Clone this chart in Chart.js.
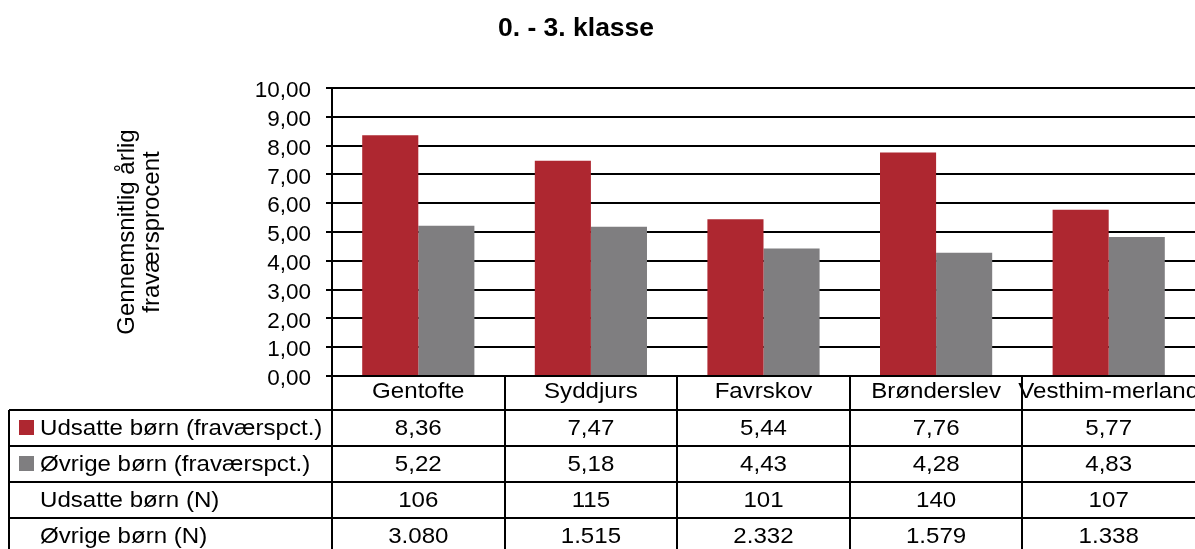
<!DOCTYPE html>
<html>
<head>
<meta charset="utf-8">
<script src="https://cdn.jsdelivr.net/npm/chart.js@4"></script>
<style>
html,body{margin:0;padding:0;background:#fff;}
#wrap{width:1195px;height:549px;position:relative;}
</style>
</head>
<body>
<div id="wrap"><canvas id="c" width="1195" height="549"></canvas></div>
<script>
const chartTitle = '0. - 3. klasse';
const yTitle = ['Gennemsnitlig årlig', 'fraværsprocent'];
const categories = ['Gentofte', 'Syddjurs', 'Favrskov', 'Brønderslev', 'Vesthim-merland'];
const udsatteLabel = 'Udsatte børn (fraværspct.)';
const ovrigeLabel = 'Øvrige børn (fraværspct.)';
const udsatte = [8.36, 7.47, 5.44, 7.76, 5.77];
const ovrige = [5.22, 5.18, 4.43, 4.28, 4.83];
const udsatteNLabel = 'Udsatte børn (N)';
const ovrigeNLabel = 'Øvrige børn (N)';
const udsatteN = ['106', '115', '101', '140', '107'];
const ovrigeN = ['3.080', '1.515', '2.332', '1.579', '1.338'];
const yMin = 0, yMax = 10, yStep = 1;

const RED = '#AE2730';
const GRAY = '#7F7E80';
const FONT = '"Liberation Sans", Arial, sans-serif';

function fmt(v){ return v.toFixed(2).replace('.', ','); }

function stretchText(ctx, text, x, y, align, sx) {
  const w = ctx.measureText(text).width * sx;
  let left = x;
  if (align === 'center') left = x - w / 2;
  else if (align === 'right') left = x - w;
  ctx.save();
  ctx.translate(left, y);
  ctx.scale(sx, 1);
  ctx.textAlign = 'left';
  ctx.fillText(text, 0, 0);
  ctx.restore();
}

const tablePlugin = {
  id: 'tablePlugin',
  afterDraw(chart) {
    const ctx = chart.ctx;
    const x = chart.scales.x;
    const area = chart.chartArea;
    const H = chart.height;
    const headerH = 34, rowH = 36;
    const top = area.bottom;
    const n = categories.length;
    const half = (x.getPixelForValue(1) - x.getPixelForValue(0)) / 2;
    ctx.save();
    ctx.fillStyle = '#000';
    ctx.font = 'bold 26.5px ' + FONT;
    ctx.textAlign = 'center';
    ctx.textBaseline = 'alphabetic';
    ctx.fillText(chartTitle, 576, 36);

    ctx.strokeStyle = '#000';
    ctx.lineWidth = 2;
    ctx.beginPath();
    ctx.moveTo(area.left - 6, top); ctx.lineTo(area.right, top);
    ctx.stroke();
    for (let i = 0; i < n; i++) {
      const lx = Math.round(x.getPixelForValue(i) - half);
      ctx.beginPath();
      ctx.moveTo(lx, i === 0 ? area.top : top); ctx.lineTo(lx, H);
      ctx.stroke();
    }
    const tableLeft = 9;
    const rows = [
      {label: udsatteLabel, color: RED, vals: udsatte.map(fmt)},
      {label: ovrigeLabel, color: GRAY, vals: ovrige.map(fmt)},
      {label: udsatteNLabel, color: null, vals: udsatteN},
      {label: ovrigeNLabel, color: null, vals: ovrigeN}
    ];
    for (let r = 0; r <= rows.length; r++) {
      const ly = top + headerH + r * rowH;
      ctx.beginPath();
      ctx.moveTo(tableLeft, ly); ctx.lineTo(area.right, ly);
      ctx.stroke();
    }
    ctx.beginPath();
    ctx.moveTo(tableLeft, top + headerH); ctx.lineTo(tableLeft, H);
    ctx.stroke();

    const SX = 1.12;
    ctx.font = '21.5px ' + FONT;
    ctx.fillStyle = '#000';
    ctx.textBaseline = 'alphabetic';
    for (let i = 0; i < n; i++) {
      stretchText(ctx, categories[i], x.getPixelForValue(i), top + 22, 'center', SX);
    }
    rows.forEach((row, r) => {
      const rt = top + headerH + r * rowH;
      if (row.color) {
        ctx.fillStyle = row.color;
        ctx.fillRect(19, rt + 10, 15, 15);
      }
      ctx.fillStyle = '#000';
      stretchText(ctx, row.label, 40, rt + 25, 'left', SX);
      row.vals.forEach((v, i) => stretchText(ctx, v, x.getPixelForValue(i), rt + 25, 'center', SX));
    });
    ctx.restore();
  }
};

new Chart(document.getElementById('c'), {
  type: 'bar',
  data: {
    labels: categories,
    datasets: [
      {label: udsatteLabel, data: udsatte, backgroundColor: RED, borderWidth: 0},
      {label: ovrigeLabel, data: ovrige, backgroundColor: GRAY, borderWidth: 0}
    ]
  },
  options: {
    responsive: false,
    animation: false,
    devicePixelRatio: 1,
    layout: {padding: {top: 88, left: 0, right: 0, bottom: 173}},
    categoryPercentage: 0.65,
    barPercentage: 1,
    plugins: {legend: {display: false}, title: {display: false}, tooltip: {enabled: false}},
    scales: {
      x: {display: false, offset: true, grid: {display: false}},
      y: {
        min: yMin, max: yMax,
        afterFit(scale) { scale.width = 332; },
        ticks: {stepSize: yStep, autoSkip: false, padding: 15, labelOffset: 3, color: '#000', font: {family: FONT, size: 22.5}, callback: v => fmt(v)},
        grid: {color: '#000', lineWidth: 2, tickLength: 6},
        border: {display: true, color: '#000', width: 2},
        title: {display: true, text: yTitle, color: '#000', font: {family: FONT, size: 24, lineHeight: 1.05}, padding: {top: 115, bottom: 0}}
      }
    }
  },
  plugins: [tablePlugin]
});
</script>
</body>
</html>
